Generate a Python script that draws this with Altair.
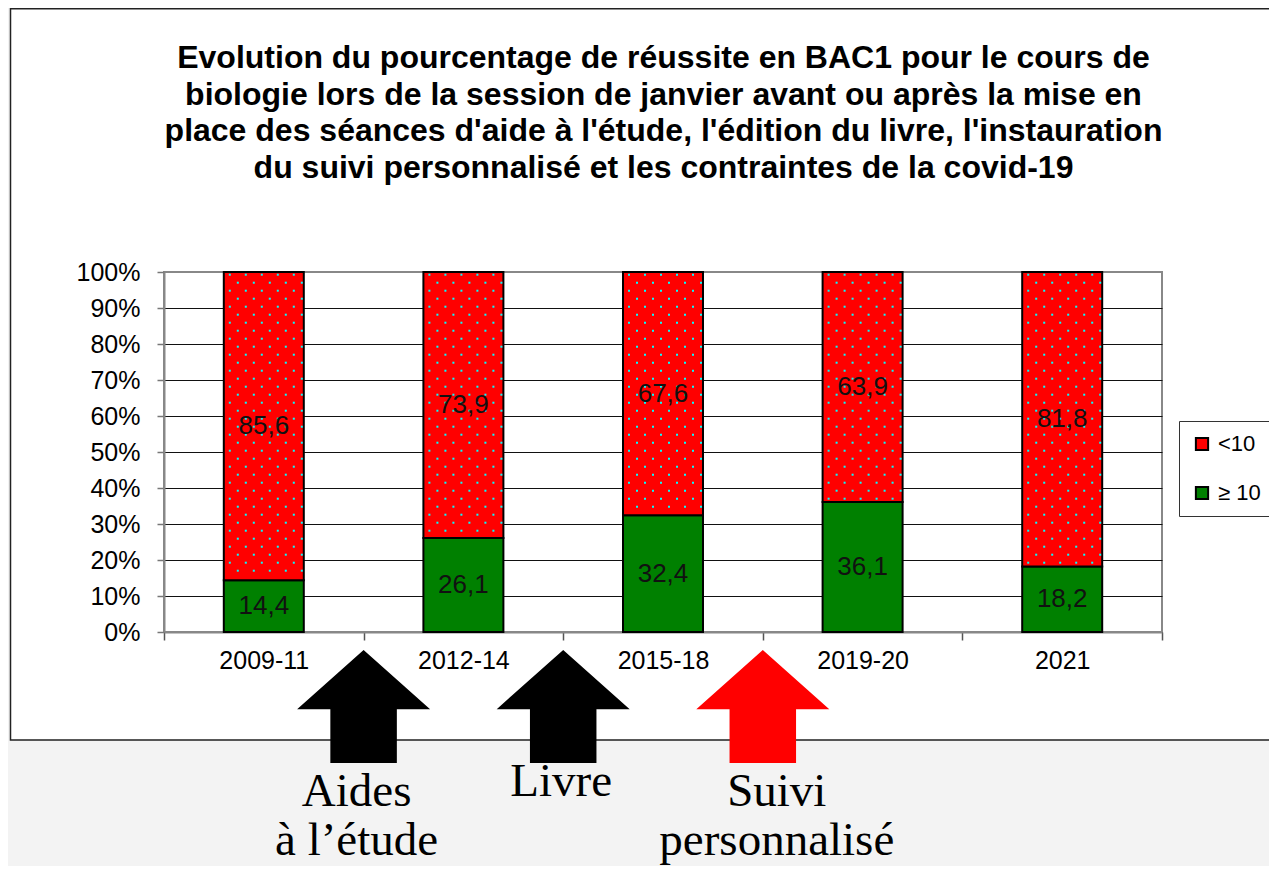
import altair as alt
import pandas as pd

# ---------------- data ----------------
periods = ["2009-11", "2012-14", "2015-18", "2019-20", "2021"]
pass_pct = [14.4, 26.1, 32.4, 36.1, 18.2]     # ≥ 10
fail_pct = [85.6, 73.9, 67.6, 63.9, 81.8]     # <10
series = ["<10", "≥ 10"]
series_colors = ["#ff0000", "#008000"]
y_ticks = [0, 10, 20, 30, 40, 50, 60, 70, 80, 90, 100]

title_text = "\n".join([
    "Evolution du pourcentage de réussite en BAC1 pour le cours de",
    "biologie lors de la session de janvier avant ou après la mise en",
    "place des séances d'aide à l'étude, l'édition du livre, l'instauration",
    "du suivi personnalisé et les contraintes de la covid-19",
])

ann_after = ["2009-11", "2012-14", "2015-18"]
ann_text = ["Aides\nà l’étude", "Livre", "Suivi\npersonnalisé"]
ann_color = ["#000000", "#000000", "#ff0000"]

# ---------------- tables ----------------
rows = []
for p, g, r in zip(periods, pass_pct, fail_pct):
    rows.append(dict(period=p, series="≥ 10", value=g, ord=0,
                     mid=g / 2, label=f"{g:.1f}".replace(".", ",")))
    rows.append(dict(period=p, series="<10", value=r, ord=1,
                     mid=g + r / 2, label=f"{r:.1f}".replace(".", ",")))
bar_df = pd.DataFrame(rows)

# dotted texture of the red segments (styling only)
PX = 3.6          # pixels per percent
BAND = 199.6      # band width in px
rowA = [-34, -18, -2, 14, 30]
rowB = [-26, -10, 6, 22, 38]
dots = []
for i, (p, g) in enumerate(zip(periods, pass_pct)):
    k = 0
    while True:
        v = 100 - (2.7 + 8 * k) / PX
        if v <= g + 0.6:
            break
        for off in (rowA if k % 2 == 0 else rowB):
            dots.append(dict(xq=i + 0.5 + off / BAND, v=v))
        k += 1
dot_df = pd.DataFrame(dots)

idx = {p: i for i, p in enumerate(periods)}
ann_df = pd.DataFrame(dict(
    txt=ann_text, col=ann_color,
    ax=[idx[a] + 1 for a in ann_after],
    ay=[(632 - 706.5) / PX] * 3,
    lx=[idx[a] + 1 + d / BAND for a, d in zip(ann_after, [-7, -2, 14])],
    ly=[(632 - 806) / PX, (632 - 796) / PX, (632 - 806) / PX],
))

one = pd.DataFrame({"a": [0]})

xscale = alt.Scale(domain=periods, paddingInner=0, paddingOuter=0)
qscale = alt.Scale(domain=[0, 5], nice=False, zero=False)
yscale = alt.Scale(domain=[0, 100], nice=False)

FONT = "Liberation Sans"

x_axis = alt.Axis(title=None, tickBand="extent", tickSize=8, tickColor="#555",
                  tickWidth=1.5, domainColor="#888", domainWidth=2,
                  labelFontSize=25, labelPadding=8, labelAngle=0,
                  labelFont=FONT, labelColor="black", grid=False)
y_axis = alt.Axis(title=None, values=y_ticks, tickCount=11,
                  labelExpr="datum.value + '%'", labelOverlap=False,
                  grid=True,
                  gridColor=alt.condition("datum.value >= 100", alt.value("#888"),
                                          alt.value("#111")),
                  gridWidth=1.2,
                  tickSize=7, tickColor="#777", tickWidth=1.5,
                  domainColor="#888", domainWidth=2,
                  labelFontSize=25, labelPadding=17, labelFont=FONT,
                  labelColor="black")

# background decoration
pattern = alt.Chart(one).mark_rect(fill="#f3f3f3").encode(
    x=alt.value(-156), x2=alt.value(1130), y=alt.value(468), y2=alt.value(620))
strip = alt.Chart(one).mark_rect(fill="#f3f3f3").encode(
    x=alt.value(-156), x2=alt.value(-154), y=alt.value(-264), y2=alt.value(468))
frame = alt.Chart(one).mark_rect(fillOpacity=0, stroke="#222", strokeWidth=1.5).encode(
    x=alt.value(-153.5), x2=alt.value(1140), y=alt.value(-263.3), y2=alt.value(468))

title = alt.Chart(one).mark_text(text=title_text, lineBreak="\n", font=FONT,
                                 fontSize=32, fontWeight="bold", lineHeight=36.5,
                                 align="center", baseline="alphabetic",
                                 color="black").encode(
    x=alt.value(499.5), y=alt.value(68 - 272))

bars = alt.Chart(bar_df).mark_bar(size=80, stroke="black", strokeWidth=2,
                                  opacity=1).encode(
    x=alt.X("period:N", scale=xscale, sort=periods, axis=x_axis),
    y=alt.Y("value:Q", stack="zero", scale=yscale, axis=y_axis),
    color=alt.Color("series:N", scale=alt.Scale(domain=series, range=series_colors),
                    legend=alt.Legend(title=None, orient="none", legendX=1015, legendY=149,
                                      strokeColor="#333", fillColor="white", padding=12,
                                      rowPadding=27, labelFontSize=22, labelFont=FONT,
                                      labelColor="black", symbolType="square",
                                      symbolSize=150, symbolStrokeColor="black",
                                      symbolStrokeWidth=2, symbolOpacity=1,
                                      labelOffset=5, cornerRadius=0)),
    order=alt.Order("ord:Q"),
)

dot_layer = alt.Chart(dot_df).mark_square(size=4, color="#00ffff", opacity=1,
                                          strokeWidth=0).encode(
    x=alt.X("xq:Q", scale=qscale, axis=None),
    y=alt.Y("v:Q", scale=yscale, axis=y_axis),
)

labels = alt.Chart(bar_df).mark_text(fontSize=26, font=FONT, color="#111",
                                     baseline="middle", align="center").encode(
    x=alt.X("period:N", scale=xscale, sort=periods, axis=None),
    y=alt.Y("mid:Q", scale=yscale, axis=y_axis),
    text="label:N",
)

ARROW = "M0,-0.85 L1,0.04 L0.5,0.04 L0.5,0.85 L-0.5,0.85 L-0.5,0.04 L-1,0.04 Z"
arrows = alt.Chart(ann_df).mark_point(shape=ARROW, size=133 * 133, filled=True,
                                      opacity=1, strokeWidth=0).encode(
    x=alt.X("ax:Q", scale=qscale, axis=None),
    y=alt.Y("ay:Q", scale=yscale, axis=y_axis),
    fill=alt.Fill("col:N", scale=None, legend=None),
)

ann_labels = alt.Chart(ann_df).mark_text(font="Liberation Serif", fontSize=47,
                                         lineHeight=49, lineBreak="\n",
                                         baseline="alphabetic", align="center",
                                         color="black").encode(
    x=alt.X("lx:Q", scale=qscale, axis=None),
    y=alt.Y("ly:Q", scale=yscale, axis=y_axis),
    text="txt:N",
)

chart = alt.layer(pattern, strip, frame, title, bars, dot_layer, labels,
                  arrows, ann_labels).resolve_scale(x="independent").properties(
    width=998, height=360,
    autosize=alt.AutoSizeParams(type="none"),
    padding={"left": 156, "top": 264, "right": 107, "bottom": 234},
    background="white",
).configure_view(stroke="#888", strokeWidth=2)

chart.save("out.html", embed_options={"renderer": "svg", "actions": False})
